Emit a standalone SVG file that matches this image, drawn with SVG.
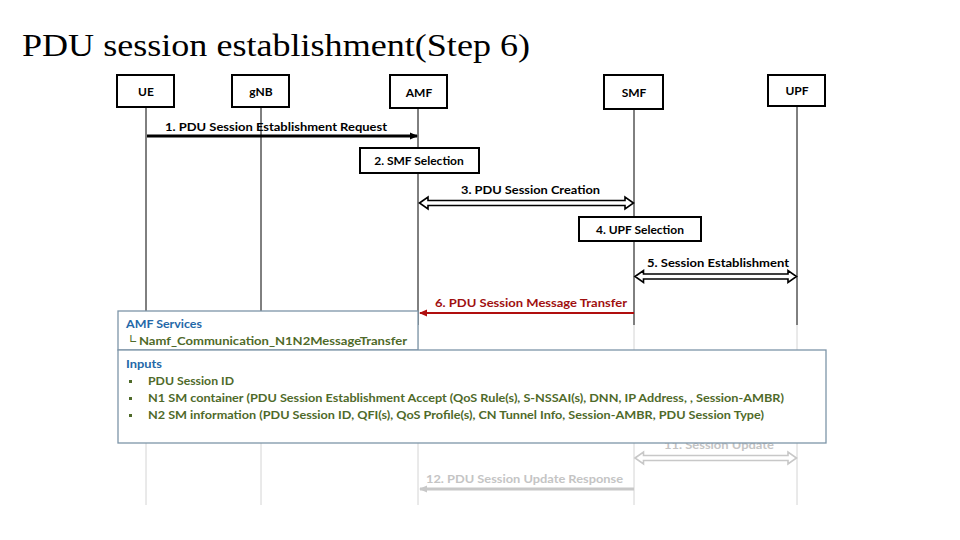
<svg xmlns="http://www.w3.org/2000/svg" width="960" height="540" viewBox="0 0 960 540">
<style>
.t{font-family:Lato,"Liberation Sans",Arial,sans-serif;font-weight:bold;font-size:12px;fill:#000}
.hdr{fill:#fff;stroke:#000;stroke-width:2}
.step{fill:#fff;stroke:#000;stroke-width:2}
.ll{stroke:#000;stroke-width:1}
.llg{stroke:#d4d4d4;stroke-width:1}
.g{fill:#c4c4c4}
.blue{fill:#2468a8}
.olive{fill:#4f6a2a}
.bul{fill:#4f6a2a}
.panel{fill:#fff;stroke:#7d95a8;stroke-width:1.3}
.dbl{fill:#fff;stroke:#000;stroke-width:1.6;stroke-linejoin:miter}
</style>
<defs>
<marker id="ahB" markerWidth="8" markerHeight="8" refX="7" refY="4" orient="auto" markerUnits="userSpaceOnUse"><path d="M0,0.5 L8,4 L0,7.5 Z" fill="#000"/></marker>
<marker id="ahR" markerWidth="8" markerHeight="8" refX="7" refY="4" orient="auto" markerUnits="userSpaceOnUse"><path d="M0,0.5 L8,4 L0,7.5 Z" fill="#b00e0e"/></marker>
<marker id="ahG" markerWidth="8" markerHeight="8" refX="7" refY="4" orient="auto" markerUnits="userSpaceOnUse"><path d="M0,0.5 L8,4 L0,7.5 Z" fill="#c8c8c8"/></marker>
</defs>
<rect width="960" height="540" fill="#fff"/>
<text x="22" y="56" font-family="'Liberation Serif','Times New Roman',serif" font-size="32" textLength="508" lengthAdjust="spacingAndGlyphs">PDU session establishment(Step 6)</text>

<g id="lifelines">
<line class="ll" x1="146" y1="107" x2="146" y2="325"/><line class="llg" x1="146" y1="325" x2="146" y2="505"/>
<line class="ll" x1="261" y1="107" x2="261" y2="325"/><line class="llg" x1="261" y1="325" x2="261" y2="505"/>
<line class="ll" x1="418" y1="107" x2="418" y2="325"/><line class="llg" x1="418" y1="325" x2="418" y2="505"/>
<line class="ll" x1="634" y1="108" x2="634" y2="325"/><line class="llg" x1="634" y1="325" x2="634" y2="505"/>
<line class="ll" x1="797" y1="106" x2="797" y2="325"/><line class="llg" x1="797" y1="325" x2="797" y2="505"/>
</g>

<g id="UE"><rect class="hdr" x="117" y="75" width="57" height="32"/><text class="t" x="146" y="96" text-anchor="middle">UE</text></g>
<g id="gNB"><rect class="hdr" x="232" y="75" width="57" height="32"/><text class="t" x="261" y="96" text-anchor="middle">gNB</text></g>
<g id="AMF"><rect class="hdr" x="390" y="75" width="57" height="33"/><text class="t" x="419" y="97" text-anchor="middle">AMF</text></g>
<g id="SMF"><rect class="hdr" x="604" y="75" width="59" height="34"/><text class="t" x="634" y="97" text-anchor="middle">SMF</text></g>
<g id="UPF"><rect class="hdr" x="768" y="75" width="57" height="31"/><text class="t" x="797" y="95" text-anchor="middle">UPF</text></g>

<g id="step2"><rect class="step" x="360" y="148" width="119" height="25"/><text class="t" x="419" y="165" text-anchor="middle">2. SMF Selection</text></g>
<g id="step4"><rect class="step" x="579" y="217" width="122" height="24"/><text class="t" x="640" y="234" text-anchor="middle">4. UPF Selection</text></g>

<g id="connectors">
<line x1="147" y1="136" x2="417" y2="136" stroke="#000" stroke-width="3" marker-end="url(#ahB)"/>
<text class="t" x="165" y="131" textLength="222" lengthAdjust="spacingAndGlyphs">1. PDU Session Establishment Request</text>

<path class="dbl" d="M419.5,203 L428,197 L428,200.5 L625,200.5 L625,197 L633.5,203 L625,209 L625,205.5 L428,205.5 L428,209 Z"/>
<text class="t" x="461" y="194" textLength="139" lengthAdjust="spacingAndGlyphs">3. PDU Session Creation</text>

<path class="dbl" d="M635,276.5 L643.5,270.5 L643.5,274 L788,274 L788,270.5 L796.5,276.5 L788,282.5 L788,279 L643.5,279 L643.5,282.5 Z"/>
<text class="t" x="647" y="267" textLength="142" lengthAdjust="spacingAndGlyphs">5. Session Establishment</text>

<line x1="634" y1="313" x2="420" y2="313" stroke="#b00e0e" stroke-width="2" marker-end="url(#ahR)"/>
<text class="t" x="435" y="307" textLength="192" lengthAdjust="spacingAndGlyphs" style="fill:#a01010">6. PDU Session Message Transfer</text>

<text class="t g" x="664" y="449" textLength="110" lengthAdjust="spacingAndGlyphs">11. Session Update</text>
<path d="M635,458 L643.5,452 L643.5,455.5 L788,455.5 L788,452 L796.5,458 L788,464 L788,460.5 L643.5,460.5 L643.5,464 Z" fill="#fff" stroke="#c8c8c8" stroke-width="1.6"/>

<line x1="634" y1="489" x2="420" y2="489" stroke="#c8c8c8" stroke-width="3" marker-end="url(#ahG)"/>
<text class="t g" x="426" y="483" textLength="197" lengthAdjust="spacingAndGlyphs">12. PDU Session Update Response</text>
</g>

<g id="amf-services">
<rect class="panel" x="118" y="311" width="300" height="39"/>
<text class="t blue" x="126" y="328" textLength="76" lengthAdjust="spacingAndGlyphs">AMF Services</text>
<text class="t olive" x="126" y="345" textLength="281" lengthAdjust="spacingAndGlyphs">└ Namf_Communication_N1N2MessageTransfer</text>
</g>

<g id="inputs">
<rect class="panel" x="118" y="350" width="708" height="93"/>
<text class="t blue" x="126" y="368" textLength="36" lengthAdjust="spacingAndGlyphs">Inputs</text>
<rect class="bul" x="129" y="380" width="3" height="3"/>
<text class="t olive" x="148" y="385" textLength="86" lengthAdjust="spacingAndGlyphs">PDU Session ID</text>
<rect class="bul" x="129" y="397" width="3" height="3"/>
<text class="t olive" x="148" y="402" textLength="636" lengthAdjust="spacingAndGlyphs">N1 SM container (PDU Session Establishment Accept (QoS Rule(s), S-NSSAI(s), DNN, IP Address, , Session-AMBR)</text>
<rect class="bul" x="129" y="414" width="3" height="3"/>
<text class="t olive" x="148" y="419" textLength="616" lengthAdjust="spacingAndGlyphs">N2 SM information (PDU Session ID, QFI(s), QoS Profile(s), CN Tunnel Info, Session-AMBR, PDU Session Type)</text>
</g>
</svg>
